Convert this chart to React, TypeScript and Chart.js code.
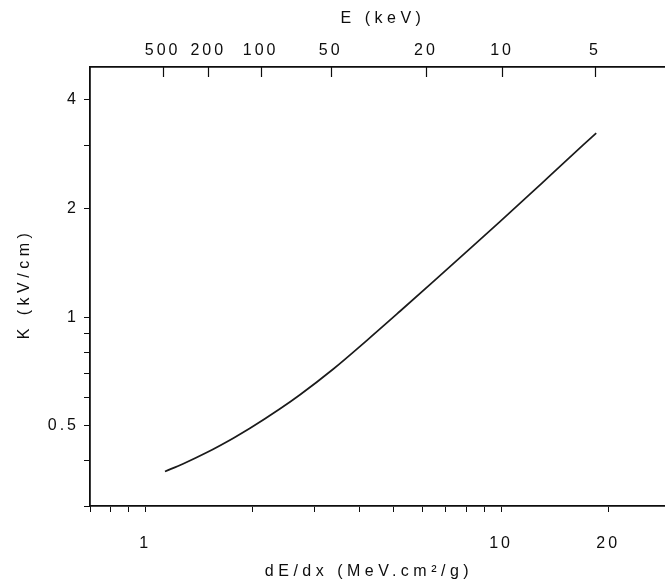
import React, { useEffect, useRef } from "react";
import { Chart, registerables } from "chart.js";

Chart.register(...registerables);

// K versus stopping power dE/dx (log-log)
const stoppingPower = [1.137, 1.28, 1.489, 1.768, 1.97, 2.393, 2.723, 3.378, 4.191, 5.199, 6.448, 8.003, 9.927, 12.31, 13.72, 17.01, 18.5];
const fieldK = [0.374, 0.393, 0.422, 0.4625, 0.4924, 0.5577, 0.61, 0.719, 0.862, 1.039, 1.255, 1.519, 1.84, 2.236, 2.469, 3.001, 3.239];

// Secondary (top) axis: electron energy at the matching dE/dx
const energyLabels = ["500", "200", "100", "50", "20", "10", "5"];
const energyAtStopping = [1.12, 1.504, 2.111, 3.322, 6.151, 10.06, 18.35];

// Bottom axis ticks
const xTicks = [0.7, 0.8, 0.9, 1, 2, 3, 4, 5, 6, 7, 8, 9, 10, 20, 30];
const xLabels = [1, 10, 20];

// Left axis ticks
const yTicks = [0.3, 0.4, 0.5, 0.6, 0.7, 0.8, 0.9, 1, 2, 3, 4];
const yLabels = [0.5, 1, 2, 4];

const FONT = "'Liberation Sans', Arial, Helvetica, sans-serif";
const INK = "#0d0d0d";

const spacedText = {
  id: "spacedText",
  beforeDraw(chart: any) {
    chart.ctx.letterSpacing = "3px";
  },
  afterDraw(chart: any) {
    chart.ctx.letterSpacing = "0px";
  },
};

const innerTopTicks = {
  id: "innerTopTicks",
  afterDatasetsDraw(chart: any) {
    const s = chart.scales.xTop;
    const { ctx, chartArea } = chart;
    ctx.save();
    ctx.strokeStyle = INK;
    ctx.lineWidth = 1.2;
    for (const v of energyAtStopping) {
      const px = Math.round(s.getPixelForValue(v)) + 0.5;
      ctx.beginPath();
      ctx.moveTo(px, chartArea.top);
      ctx.lineTo(px, chartArea.top + 10);
      ctx.stroke();
    }
    ctx.restore();
  },
};

const axisTitles = {
  id: "axisTitles",
  afterDraw(chart: any) {
    const { ctx, chartArea } = chart;
    ctx.save();
    ctx.fillStyle = INK;
    ctx.font = `16px ${FONT}`;
    ctx.letterSpacing = "4.5px";
    ctx.textAlign = "center";
    ctx.textBaseline = "middle";
    ctx.fillText("E (keV)", 383, chartArea.top - 48);
    ctx.fillText("dE/dx (MeV.cm²/g)", 369, chartArea.bottom + 66);
    ctx.translate(25, 284);
    ctx.rotate(-Math.PI / 2);
    ctx.fillText("K (kV/cm)", 0, 0);
    ctx.restore();
  },
};

export default function App() {
  const canvasRef = useRef<HTMLCanvasElement | null>(null);

  useEffect(() => {
    const canvas = canvasRef.current;
    if (!canvas) return;
    const tickFont = { family: FONT, size: 16 };
    const chart = new Chart(canvas, {
      type: "line",
      data: {
        datasets: [
          {
            data: stoppingPower.map((x, i) => ({ x, y: fieldK[i] })),
            xAxisID: "x",
            yAxisID: "y",
            borderColor: "#1a1a1a",
            borderWidth: 1.7,
            pointRadius: 0,
            cubicInterpolationMode: "monotone",
            fill: false,
          },
        ],
      },
      options: {
        responsive: false,
        animation: false,
        events: [],
        layout: { padding: 0 },
        plugins: { legend: { display: false }, tooltip: { enabled: false } },
        scales: {
          x: {
            type: "logarithmic",
            position: "bottom",
            min: 0.7,
            max: 41.2,
            afterBuildTicks: (s: any) => {
              s.ticks = xTicks.map((v) => ({ value: v }));
            },
            afterFit: (s: any) => {
              s.height = 80;
            },
            ticks: {
              autoSkip: false,
              maxRotation: 0,
              padding: 22,
              color: INK,
              font: tickFont,
              callback: (v: any) => (xLabels.includes(v) ? String(v) : ""),
            },
            grid: { drawOnChartArea: false, drawTicks: true, tickLength: 6, color: INK, lineWidth: 1 },
            border: { display: true, color: INK, width: 1.8 },
          },
          xTop: {
            type: "logarithmic",
            axis: "x",
            position: "top",
            min: 0.7,
            max: 41.2,
            afterBuildTicks: (s: any) => {
              s.ticks = energyAtStopping.map((v) => ({ value: v }));
            },
            afterFit: (s: any) => {
              s.height = 67;
            },
            ticks: {
              autoSkip: false,
              maxRotation: 0,
              padding: 7,
              color: INK,
              font: tickFont,
              callback: (_v: any, i: number) => energyLabels[i],
            },
            grid: { display: false, drawTicks: false, tickLength: 0 },
            border: { display: true, color: INK, width: 1.8 },
          },
          y: {
            type: "logarithmic",
            position: "left",
            min: 0.3,
            max: 4.935,
            afterBuildTicks: (s: any) => {
              s.ticks = yTicks.map((v) => ({ value: v }));
            },
            afterFit: (s: any) => {
              s.width = 90;
            },
            ticks: {
              autoSkip: false,
              padding: 5,
              color: INK,
              font: tickFont,
              callback: (v: any) => (yLabels.includes(v) ? String(v) : ""),
            },
            grid: { drawOnChartArea: false, drawTicks: true, tickLength: 6, color: INK, lineWidth: 1 },
            border: { display: true, color: INK, width: 1.8 },
          },
        },
      } as any,
      plugins: [spacedText, innerTopTicks, axisTitles],
    });
    return () => chart.destroy();
  }, []);

  return (
    <div
      style={{
        position: "fixed",
        left: 0,
        top: 0,
        width: 665,
        height: 586,
        overflow: "hidden",
        background: "#fff",
      }}
    >
      <canvas ref={canvasRef} width={720} height={586} style={{ width: 720, height: 586, display: "block" }} />
    </div>
  );
}
